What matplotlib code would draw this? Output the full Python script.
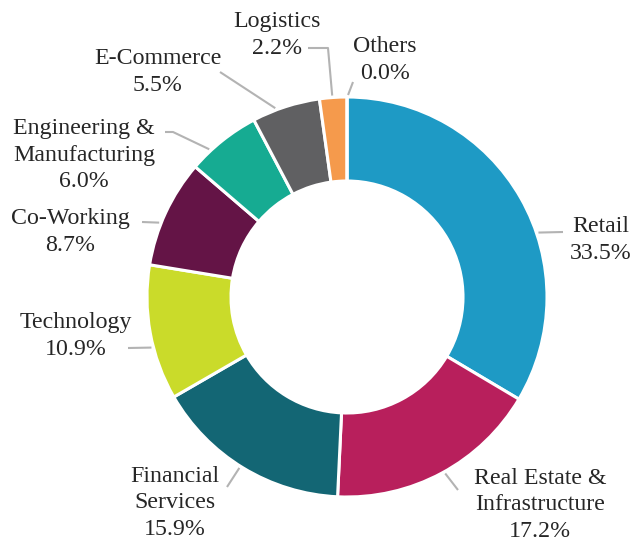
import numpy as np
import matplotlib.pyplot as plt

plt.rcParams["font.family"] = ["Liberation Serif", "DejaVu Serif"]

# data (clockwise from 12 o'clock)
sectors = ["Retail", "Real Estate &\nInfrastructure", "Financial\nServices",
           "Technology", "Co-Working", "Engineering &\nManufacturing",
           "E-Commerce", "Logistics", "Others"]
shares = [33.5, 17.2, 15.9, 10.9, 8.7, 6.0, 5.5, 2.2, 0.0]
colors = ["#1e9ac5", "#b81f5c", "#136674", "#cadb2a", "#641446",
          "#16ab92", "#606062", "#f59a4c", "#d9d9d9"]

# label layout: text centre, leader angle on the ring, leader outer points
text_pos = [(1.27, 0.285), (0.965, -1.04), (-0.86, -1.03), (-1.355, -0.195),
            (-1.385, 0.325), (-1.315, 0.71), (-0.945, 1.125), (-0.35, 1.31),
            (0.19, 1.185)]
leader_angle = [18.6, -60.9, -122.2, 194.5, 158.4, 133.0, 110.8, 94.2, 89.7]
leader_pts = [[(1.08, 0.325)], [(0.555, -0.965)], [(-0.60, -0.95)],
              [(-1.095, -0.255)], [(-1.025, 0.375)],
              [(-0.87, 0.825), (-0.91, 0.825)], [(-0.635, 1.125)],
              [(-0.095, 1.245), (-0.195, 1.245)], [(0.03, 1.075)]]

fig = plt.figure(figsize=(6.32, 5.44), dpi=100)
ax = fig.add_axes([0, 0, 1, 1])

ax.pie(shares, colors=colors, startangle=90, counterclock=False, radius=1.0,
       wedgeprops=dict(width=0.42, edgecolor="white", linewidth=2.2))

for name, val, (tx, ty), ang, pts in zip(sectors, shares, text_pos,
                                         leader_angle, leader_pts):
    a = np.deg2rad(ang)
    xs = [1.01 * np.cos(a)] + [p[0] for p in pts]
    ys = [1.01 * np.sin(a)] + [p[1] for p in pts]
    ax.plot(xs, ys, color="#b3b3b3", lw=1.5, solid_capstyle="butt")
    ax.text(tx, ty, f"{name}\n{val:.1f}%", ha="center", va="center",
            multialignment="center", fontsize=17.2, color="#262626",
            linespacing=1.35)

ax.set_xlim(-1.735, 1.425)
ax.set_ylim(-1.235, 1.485)
ax.set_aspect("equal")
ax.axis("off")

fig.savefig("out.png", dpi=100)
